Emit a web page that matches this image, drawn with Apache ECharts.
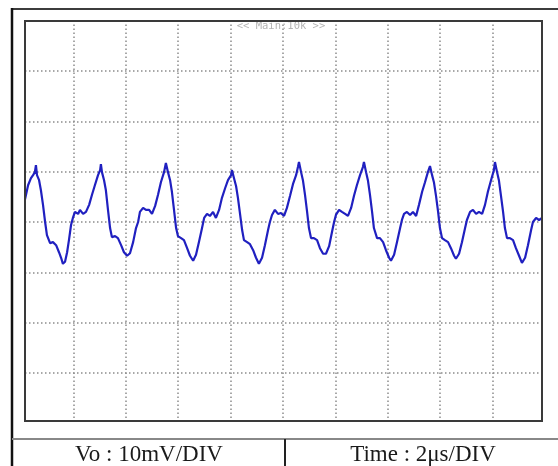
<!DOCTYPE html>
<html>
<head>
<meta charset="utf-8">
<script src="https://cdn.jsdelivr.net/npm/echarts@6/dist/echarts.min.js"></script>
<style>
  html, body { margin: 0; padding: 0; background: #fff; }
  #chart { width: 558px; height: 466px; }
</style>
</head>
<body>
<div id="chart"></div>
<script>
// time in us (2us/div, 10 div), voltage in mV (10mV/div, 8 div)
var timeUs = [
  0.15, 0.27, 0.38, 0.46, 0.53, 0.57, 0.61, 0.69, 0.76, 0.84, 0.92, 0.99, 1.11, 1.22, 1.34, 1.45, 1.53, 1.60, 1.68, 1.76,
  1.83, 1.91, 1.98, 2.06, 2.18, 2.25, 2.37, 2.48, 2.60, 2.71, 2.82, 2.94, 3.02, 3.05, 3.09, 3.17, 3.24, 3.32, 3.40, 3.47,
  3.59, 3.70, 3.82, 3.93, 4.05, 4.16, 4.28, 4.39, 4.47, 4.54, 4.66, 4.77, 4.89, 5.00, 5.12, 5.23, 5.34, 5.46, 5.53, 5.61,
  5.69, 5.76, 5.84, 5.92, 5.99, 6.11, 6.22, 6.34, 6.45, 6.57, 6.68, 6.79, 6.91, 6.99, 7.10, 7.21, 7.33, 7.44, 7.56, 7.67,
  7.79, 7.90, 8.02, 8.05, 8.13, 8.21, 8.28, 8.36, 8.44, 8.51, 8.63, 8.74, 8.86, 8.97, 9.08, 9.20, 9.31, 9.43, 9.50, 9.58,
  9.69, 9.81, 9.92, 10.04, 10.15, 10.27, 10.38, 10.50, 10.57, 10.61, 10.69, 10.76, 10.84, 10.92, 10.99, 11.07, 11.18, 11.30, 11.41, 11.53,
  11.64, 11.76, 11.87, 11.95, 12.02, 12.14, 12.25, 12.37, 12.48, 12.60, 12.71, 12.82, 12.94, 13.05, 13.09, 13.17, 13.24, 13.32, 13.40, 13.47,
  13.59, 13.70, 13.82, 13.93, 14.05, 14.12, 14.24, 14.35, 14.47, 14.54, 14.62, 14.73, 14.85, 14.96, 15.08, 15.19, 15.31, 15.42, 15.53, 15.61,
  15.69, 15.76, 15.84, 15.92, 15.99, 16.07, 16.18, 16.30, 16.41, 16.53, 16.60, 16.72, 16.83, 16.95, 17.02, 17.14, 17.25, 17.37, 17.48, 17.60,
  17.71, 17.82, 17.94, 18.05, 18.09, 18.17, 18.24, 18.32, 18.40, 18.47, 18.55, 18.66, 18.78, 18.89, 19.01, 19.12, 19.24, 19.35, 19.47, 19.54,
  19.66, 19.77, 19.89
];
var voltsMv = [
  4.4, 7.3, 8.7, 9.3, 9.9, 11.3, 9.3, 8.3, 6.3, 3.4, 0.0, -2.6, -4.2, -4.0, -4.6, -6.0, -7.1, -8.3, -7.9, -6.0,
  -3.6, -0.6, 0.8, 2.0, 1.6, 2.4, 1.6, 2.0, 3.4, 5.4, 7.3, 9.3, 10.3, 11.5, 9.9, 8.3, 6.3, 2.4, -1.2, -3.0,
  -2.8, -3.2, -4.6, -6.0, -6.7, -6.2, -4.0, -1.2, 0.0, 2.0, 2.8, 2.4, 2.4, 1.6, 3.2, 5.4, 7.9, 9.9, 11.7, 9.9,
  8.3, 6.0, 2.4, -1.2, -2.8, -3.2, -3.6, -5.2, -6.7, -7.7, -6.5, -4.0, -1.2, 0.8, 1.6, 1.2, 2.0, 0.8, 2.4, 4.8,
  6.7, 8.3, 9.3, 10.3, 8.7, 7.1, 4.8, 1.6, -1.6, -3.6, -4.0, -4.4, -5.6, -7.1, -8.3, -7.1, -4.6, -1.6, 0.0, 1.4,
  2.4, 1.6, 1.8, 1.2, 2.8, 5.2, 7.5, 9.3, 10.9, 11.9, 9.9, 8.3, 5.4, 2.0, -1.2, -3.2, -3.2, -3.6, -5.2, -6.3,
  -6.3, -4.8, -2.0, 0.0, 1.4, 2.4, 2.0, 1.6, 1.2, 2.8, 5.2, 7.3, 9.3, 10.9, 11.9, 9.9, 8.3, 5.4, 2.0, -1.2,
  -3.2, -3.2, -4.0, -5.6, -7.1, -7.7, -6.5, -4.0, -1.2, 0.4, 1.6, 2.0, 1.4, 2.0, 1.2, 3.4, 6.0, 7.9, 9.9, 11.1,
  9.3, 7.9, 5.2, 2.0, -1.2, -3.2, -3.6, -4.0, -5.2, -6.7, -7.3, -6.3, -4.0, -1.2, 0.4, 2.0, 2.4, 1.6, 2.0, 1.6,
  3.4, 6.0, 8.3, 10.3, 11.9, 9.9, 8.3, 5.2, 2.0, -1.2, -3.2, -3.2, -3.6, -5.2, -6.7, -8.1, -7.1, -4.6, -1.6, 0.0,
  0.8, 0.4, 0.8
];
var xTicks = { min: 0, max: 20, step: 2 };
var yTicks = { min: -40, max: 40, step: 10 };
var topLabel = '<< Main:10k >>';
var voltLabel = 'Vo : 10mV/DIV';
var timeLabel = 'Time : 2\u03bcs/DIV';

var wave = timeUs.map(function (t, i) { return [t, voltsMv[i]]; });

var gridLine = { color: '#8c8c8c', width: 1.5, type: [1.5, 2.5] };

var myChart = echarts.init(document.getElementById('chart'), null, { renderer: 'canvas' });
myChart.setOption({
  animation: false,
  backgroundColor: '#fff',
  grid: { left: 21, top: 20.5, width: 524, height: 403, show: false },
  xAxis: {
    type: 'value', min: xTicks.min, max: xTicks.max, interval: xTicks.step,
    axisLine: { show: false }, axisTick: { show: false }, axisLabel: { show: false },
    splitLine: { show: true, showMinLine: false, showMaxLine: false, lineStyle: gridLine }
  },
  yAxis: {
    type: 'value', min: yTicks.min, max: yTicks.max, interval: yTicks.step,
    axisLine: { show: false }, axisTick: { show: false }, axisLabel: { show: false },
    splitLine: { show: true, showMinLine: false, showMaxLine: false, lineStyle: gridLine }
  },
  series: [{
    type: 'line',
    data: wave,
    showSymbol: false,
    smooth: false,
    lineStyle: { color: '#2020c0', width: 2.2 },
    z: 3
  }],
  graphic: [
    { type: 'text', z: 1, style: { text: topLabel, x: 281, y: 26, align: 'center', verticalAlign: 'middle',
      font: '10.5px "DejaVu Sans Mono"', fill: '#b4b4b4' } },
    // hide the grid dots that run past the scope frame
    { type: 'rect', z: 9, shape: { x: 13, y: 15, width: 11, height: 415 }, style: { fill: '#fff' } },
    { type: 'rect', z: 9, shape: { x: 543, y: 15, width: 15, height: 415 }, style: { fill: '#fff' } },
    { type: 'rect', z: 10, shape: { x: 25, y: 21, width: 517, height: 400 },
      style: { fill: 'none', stroke: '#3a3a3a', lineWidth: 2 } },
    { type: 'line', z: 10, shape: { x1: 11, y1: 9, x2: 558, y2: 9 }, style: { stroke: '#3c3c3c', lineWidth: 2 } },
    { type: 'line', z: 10, shape: { x1: 12, y1: 8, x2: 12, y2: 466 }, style: { stroke: '#111', lineWidth: 2.5 } },
    { type: 'line', z: 10, shape: { x1: 12, y1: 439, x2: 558, y2: 439 }, style: { stroke: '#888', lineWidth: 2 } },
    { type: 'line', z: 10, shape: { x1: 285, y1: 439, x2: 285, y2: 466 }, style: { stroke: '#222', lineWidth: 2 } },
    { type: 'text', z: 10, style: { text: voltLabel, x: 149, y: 455, align: 'center', verticalAlign: 'middle',
      font: '23px "Liberation Serif"', fill: '#1a1a1a' } },
    { type: 'text', z: 10, style: { text: timeLabel, x: 423, y: 455, align: 'center', verticalAlign: 'middle',
      font: '23px "Liberation Serif"', fill: '#1a1a1a' } }
  ]
});
</script>
</body>
</html>
